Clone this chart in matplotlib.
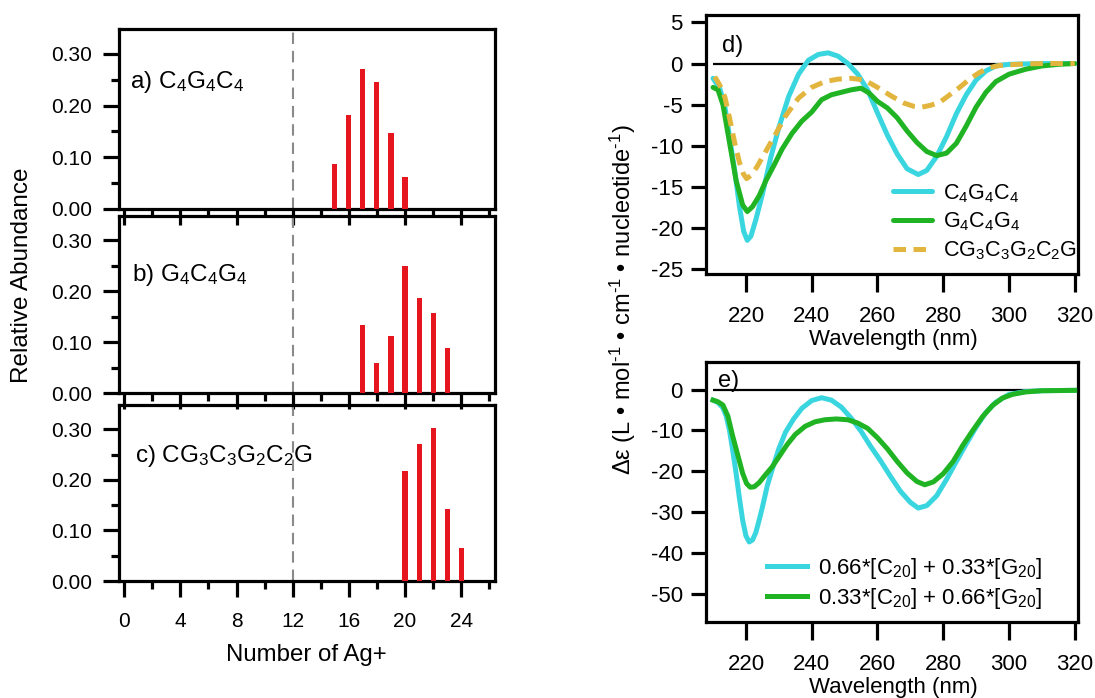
import matplotlib
matplotlib.use('Agg')
import matplotlib.pyplot as plt
from matplotlib.ticker import MultipleLocator, FormatStrFormatter, FixedLocator

plt.rcParams['font.family'] = ['Liberation Sans', 'DejaVu Sans']
plt.rcParams['mathtext.fontset'] = 'custom'
plt.rcParams['mathtext.rm'] = 'Liberation Sans'
plt.rcParams['mathtext.it'] = 'Liberation Sans:italic'
plt.rcParams['mathtext.bf'] = 'Liberation Sans:bold'
plt.rcParams['axes.unicode_minus'] = False

# ---------------- data: Ag+ stoichiometry distributions ----------------
ag_a = [15, 16, 17, 18, 19, 20]
ab_a = [0.087, 0.182, 0.270, 0.245, 0.147, 0.061]
ag_b = [17, 18, 19, 20, 21, 22, 23]
ab_b = [0.135, 0.059, 0.113, 0.249, 0.187, 0.158, 0.089]
ag_c = [20, 21, 22, 23, 24]
ab_c = [0.218, 0.270, 0.303, 0.142, 0.066]
panel_labels_left = ['a) C$_4$G$_4$C$_4$', 'b) G$_4$C$_4$G$_4$', 'c) CG$_3$C$_3$G$_2$C$_2$G']
ref_line_x = 12

# ---------------- data: CD spectra (panel d) ----------------
cyan_d_wl = [210, 212, 213.5, 215, 216.5, 218, 219.3, 220.4, 221.5, 223,
             225, 227.5, 230, 233, 236, 239, 242, 245, 248, 251,
             254, 257, 260, 263, 266, 269, 272.4, 275, 278, 281,
             284, 287, 290, 293, 296, 300, 305, 310, 320]
cyan_d = [-1.8, -3.0, -5.0, -8.9, -12.8, -17.3, -20.4, -21.5, -21.0, -19.0,
          -15.9, -11.5, -7.8, -4.0, -1.3, 0.4, 1.1, 1.3, 0.9, 0.0,
          -1.3, -3.2, -6.0, -8.7, -11.0, -12.8, -13.5, -13.0, -11.3, -8.9,
          -6.1, -3.8, -2.0, -0.9, -0.3, -0.1, -0.05, 0.0, 0.0]

green_d_wl = [210, 211.5, 213, 215, 217, 219, 220.4, 222, 224, 226,
              228.5, 231, 234, 237, 240, 243, 246, 249, 252, 255,
              257.5, 260, 263, 266, 269, 272, 275, 278, 281, 284,
              287, 290, 293, 296, 300, 305, 310, 315, 320]
green_d = [-2.9, -3.2, -5.0, -9.6, -14.2, -17.2, -18.0, -17.4, -16.1, -14.3,
           -12.4, -10.4, -8.5, -7.0, -5.9, -4.4, -3.8, -3.5, -3.2, -3.0,
           -3.6, -4.6, -5.4, -6.6, -8.2, -9.6, -10.7, -11.2, -10.9, -9.7,
           -7.6, -5.3, -3.5, -2.2, -1.3, -0.7, -0.3, -0.1, 0.0]

yellow_d_wl = [210.5, 212, 213.6, 215, 216.5, 218, 219.2, 220.2, 221.5, 223.3,
               226, 229, 232, 236, 240, 244, 248, 252, 256, 260,
               264, 268, 271, 273.5, 276, 279, 282, 285, 288, 291,
               294, 297, 300, 305, 310, 320]
yellow_d = [-1.6, -2.6, -4.1, -6.6, -9.5, -12.0, -13.4, -14.0, -13.6, -12.6,
            -10.7, -8.6, -6.4, -4.2, -2.9, -2.2, -1.9, -1.8, -2.0, -2.9,
            -3.9, -4.8, -5.2, -5.3, -5.1, -4.7, -3.8, -2.9, -1.9, -1.1,
            -0.5, -0.25, -0.15, -0.05, 0.0, 0.0]
labels_d = ['C$_4$G$_4$C$_4$', 'G$_4$C$_4$G$_4$', 'CG$_3$C$_3$G$_2$C$_2$G']

# ---------------- data: linear combinations (panel e) ----------------
cyan_e_wl = [210, 211.5, 213, 214, 215, 216, 217, 218, 219, 220,
             221, 222, 223, 224, 225, 226.5, 228, 230, 232, 234.5,
             237, 240, 243, 246, 249, 252, 255, 258, 261, 264,
             267, 270, 272.4, 275, 278, 281, 284, 287, 290, 293,
             296, 300, 305, 310, 320]
cyan_e = [-2.6, -3.2, -4.5, -6.5, -10.0, -15.0, -20.5, -26.5, -32.0, -35.8,
          -37.3, -36.8, -35.0, -32.0, -28.8, -23.5, -19.5, -14.5, -10.5, -7.2,
          -4.6, -2.7, -2.0, -2.6, -4.3, -7.0, -10.2, -14.0, -17.5, -21.3,
          -24.9, -27.6, -29.0, -28.4, -26.0, -22.0, -17.6, -13.3, -9.2, -5.6,
          -3.1, -1.2, -0.5, -0.3, -0.2]

green_e_wl = [210, 211.5, 213, 214.5, 216, 217.5, 219, 220.2, 221.3, 222.5,
              224, 226, 228, 230, 232.5, 235, 238, 241, 244, 247.5,
              251, 254, 257, 260, 263, 266, 269, 272, 274.4, 277,
              280, 283, 286, 289, 292, 295, 298, 301, 305, 310, 320]
green_e = [-2.6, -3.0, -3.8, -6.5, -11.5, -16.0, -20.5, -23.0, -23.9, -23.8,
           -22.8, -20.8, -18.9, -16.5, -13.5, -11.0, -9.0, -7.9, -7.4, -7.2,
           -7.4, -8.2, -9.5, -11.8, -14.5, -17.6, -20.4, -22.5, -23.3, -22.6,
           -20.6, -17.6, -13.6, -10.0, -6.6, -3.9, -2.1, -1.2, -0.6, -0.3, -0.2]
labels_e = ['0.66*[C$_{20}$] + 0.33*[G$_{20}$]', '0.33*[C$_{20}$] + 0.66*[G$_{20}$]']

wl_ticks = [220, 240, 260, 280, 300, 320]
d_yticks = [5, 0, -5, -10, -15, -20, -25]
e_yticks = [0, -10, -20, -30, -40, -50]

# ---------------- styling ----------------
RED = '#e5161d'
CYAN = '#3ad6df'
GREEN = '#20b424'
YELLOW = '#e2b63e'
SPINE_W = 2.3
LW = 3.6

fig = plt.figure(figsize=(10.95, 6.98), dpi=100)

left_pos = [[0.1087, 0.7006, 0.3435, 0.2579],
            [0.1087, 0.4365, 0.3435, 0.2540],
            [0.1087, 0.1676, 0.3435, 0.2522]]
label_xy = [(0.0284, 0.670), (0.0355, 0.633), (0.0426, 0.678)]
datasets = [(ag_a, ab_a), (ag_b, ab_b), (ag_c, ab_c)]

for i, (pos, (xs, ys)) in enumerate(zip(left_pos, datasets)):
    ax = fig.add_axes(pos)
    ax.set_facecolor('none')
    ax.bar(xs, ys, width=0.36, color=RED, zorder=3)
    ax.axvline(ref_line_x, color='#8a8a8a', lw=1.5, dashes=(5.5, 3.3), zorder=2)
    ax.set_xlim(-0.37, 26.42)
    ax.set_ylim(0, 0.348)
    ax.xaxis.set_major_locator(MultipleLocator(4))
    ax.xaxis.set_minor_locator(MultipleLocator(2))
    ax.yaxis.set_major_locator(MultipleLocator(0.1))
    ax.yaxis.set_minor_locator(MultipleLocator(0.05))
    ax.yaxis.set_major_formatter(FormatStrFormatter('%.2f'))
    for s in ax.spines.values():
        s.set_linewidth(SPINE_W)
    ax.tick_params(axis='both', which='major', direction='out', length=11.5,
                   width=SPINE_W, labelsize=15)
    ax.tick_params(axis='both', which='minor', direction='out', length=6,
                   width=SPINE_W)
    ax.tick_params(axis='y', which='major', pad=8)
    ax.tick_params(axis='x', which='major', pad=11)
    if i < 2:
        ax.tick_params(axis='x', labelbottom=False)
    ax.text(label_xy[i][0], label_xy[i][1], panel_labels_left[i],
            transform=ax.transAxes, fontsize=17.5, va='baseline', ha='left', zorder=1)

fig.text(0.0198, 0.605, 'Relative Abundance', rotation=90, ha='center',
         va='center', fontsize=17.5)
fig.text(0.280, 0.0616, 'Number of Ag+', ha='center', va='center', fontsize=17.3)

# ---------------- panel d ----------------
axd = fig.add_axes([0.6452, 0.6074, 0.3393, 0.3711])
axd.hlines(0, cyan_d_wl[0], cyan_d_wl[-1], color='black', lw=1.6, zorder=1)
l1, = axd.plot(cyan_d_wl, cyan_d, color=CYAN, lw=LW, solid_capstyle='round', zorder=2)
l2, = axd.plot(green_d_wl, green_d, color=GREEN, lw=LW, solid_capstyle='round', zorder=3)
l3, = axd.plot(yellow_d_wl, yellow_d, color=YELLOW, lw=LW, dashes=(2.5, 1.5), zorder=4)
axd.set_xlim(208.0, 321.0)
axd.set_ylim(-25.6, 5.9)
axd.text(0.041, 0.858, 'd)', transform=axd.transAxes, fontsize=17, va='baseline')
axd.legend([l1, l2, l3], labels_d, loc='upper left', bbox_to_anchor=(0.8158, 0.7393),
           bbox_transform=fig.transFigure, frameon=False, fontsize=15.5,
           handlelength=1.78, handletextpad=0.54, labelspacing=0.28,
           borderpad=0, borderaxespad=0)

# ---------------- panel e ----------------
axe = fig.add_axes([0.6452, 0.1093, 0.3393, 0.3716])
axe.hlines(0, cyan_e_wl[0], cyan_e_wl[-1], color='black', lw=1.6, zorder=1)
m1, = axe.plot(cyan_e_wl, cyan_e, color=CYAN, lw=LW, zorder=2)
m2, = axe.plot(green_e_wl, green_e, color=GREEN, lw=LW, zorder=3)
axe.set_xlim(208.0, 321.0)
axe.set_ylim(-56.8, 6.65)
axe.text(0.032, 0.906, 'e)', transform=axe.transAxes, fontsize=17, va='baseline')
axe.legend([m1, m2], labels_e, loc='upper left', bbox_to_anchor=(0.700, 0.2039),
           bbox_transform=fig.transFigure, frameon=False, fontsize=16,
           handlelength=1.8, handletextpad=0.52, labelspacing=0.25,
           borderpad=0, borderaxespad=0)

for ax, yt in ((axd, d_yticks), (axe, e_yticks)):
    ax.xaxis.set_major_locator(FixedLocator(wl_ticks))
    ax.yaxis.set_major_locator(FixedLocator(yt))
    for s in ax.spines.values():
        s.set_linewidth(SPINE_W)
    ax.tick_params(axis='x', direction='out', length=13, width=SPINE_W,
                   labelsize=16, pad=10)
    ax.tick_params(axis='y', direction='out', length=11, width=SPINE_W,
                   labelsize=16, pad=6)

fig.text(0.8157, 0.5129, 'Wavelength (nm)', ha='center', va='center', fontsize=16)
fig.text(0.8157, 0.0148, 'Wavelength (nm)', ha='center', va='center', fontsize=16)
fig.text(0.569, 0.570,
         'Δε (L • mol$^{\\text{-1}}$ • cm$^{\\text{-1}}$ • nucleotide$^{\\text{-1}}$)',
         rotation=90, ha='center', va='center', fontsize=17)

fig.savefig('out.png', dpi=100)
